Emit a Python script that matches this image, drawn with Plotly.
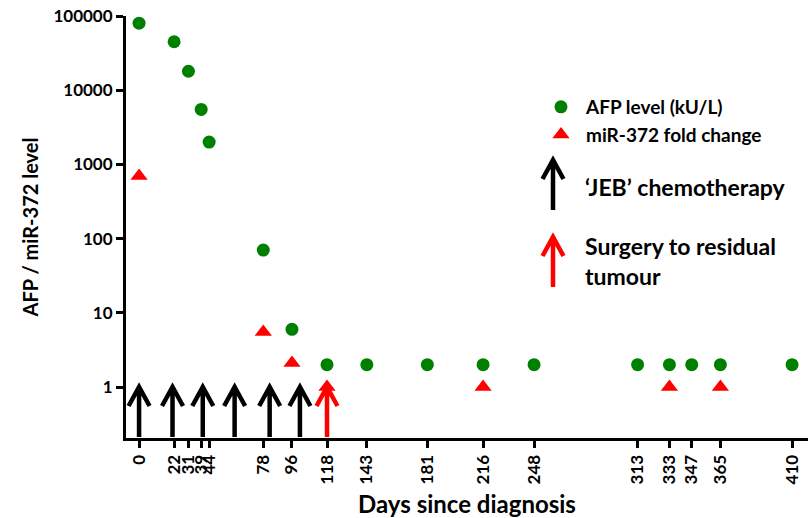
import math
import plotly.graph_objects as go

# AFP (kU/L) measurements by day since diagnosis
afp_days = [0, 22, 31, 39, 44, 78, 96, 118, 143, 181, 216, 248, 313, 333, 347, 365, 410]
afp_vals = [80000, 45000, 18000, 5500, 2000, 70, 6, 2, 2, 2, 2, 2, 2, 2, 2, 2, 2]

# miR-372 fold change
mir_days = [0, 78, 96, 118, 216, 333, 365]
mir_vals = [700, 5.5, 2.1, 1, 1, 1, 1]

# Treatment events
chemo_days = [0, 21, 40, 60, 82, 101]
surgery_days = [118]

x_ticks = [0, 22, 31, 39, 44, 78, 96, 118, 143, 181, 216, 248, 313, 333, 347, 365, 410]
y_ticks = [1, 10, 100, 1000, 10000, 100000]

GREEN = "#008000"
RED = "#ff0000"
FONT = "Lato"

fig = go.Figure()
fig.add_trace(go.Scatter(
    x=afp_days, y=afp_vals, mode="markers", name="AFP level (kU/L)",
    marker=dict(symbol="circle", size=13, color=GREEN),
))
fig.add_trace(go.Scatter(
    x=mir_days, y=mir_vals, mode="markers", name="miR-372 fold change",
    marker=dict(symbol="triangle-up", size=15, color=RED),
))

y_bottom = 10 ** -0.687
y_top_log = 5.0


def arrow_path(length, head_w, head_h):
    return (f"M0,0 L0,{-length} "
            f"M{-head_w},{-head_h} L0,0 L{head_w},{-head_h}")


shapes = []
# arrows rising from the x axis up to the 1 level
for d in chemo_days:
    shapes.append(dict(type="path", xref="x", yref="y",
                       xsizemode="pixel", ysizemode="pixel",
                       xanchor=d, yanchor=1,
                       path=arrow_path(50, 10.5, 19),
                       line=dict(color="black", width=4.5)))
for d in surgery_days:
    shapes.append(dict(type="path", xref="x", yref="y",
                       xsizemode="pixel", ysizemode="pixel",
                       xanchor=d, yanchor=1,
                       path=arrow_path(50, 10.5, 19),
                       line=dict(color=RED, width=4.5)))

# key arrows beside the legend
plot_l, plot_r, plot_t, plot_b = 126, 808, 16, 438


def px_to_paper(px, py):
    return (px - plot_l) / (plot_r - plot_l), (plot_b - py) / (plot_b - plot_t)


for (px, py), col in [((553, 160), "black"), ((553, 237), RED)]:
    xp, yp = px_to_paper(px, py)
    shapes.append(dict(type="path", xref="paper", yref="paper",
                       xsizemode="pixel", ysizemode="pixel",
                       xanchor=xp, yanchor=yp,
                       path=arrow_path(50, 10.5, 19),
                       line=dict(color=col, width=4.5)))

annotations = []
for text, (px, py) in [("‘JEB’ chemotherapy", (583, 187)),
                       ("Surgery to residual<br>tumour", (583, 261))]:
    xp, yp = px_to_paper(px, py)
    annotations.append(dict(text=text, xref="paper", yref="paper",
                            x=xp, y=yp, xanchor="left", yanchor="middle",
                            showarrow=False, align="left",
                            font=dict(family=FONT, size=23, color="black",
                                      weight="bold")))

lx, ly = px_to_paper(536, 88)

fig.update_layout(
    width=808, height=518,
    margin=dict(l=plot_l, r=0, t=plot_t, b=518 - plot_b),
    plot_bgcolor="white", paper_bgcolor="white",
    font=dict(family=FONT, color="black", weight="bold"),
    showlegend=True,
    legend=dict(x=lx, y=ly, xanchor="left", yanchor="top",
                font=dict(family=FONT, size=19, weight="bold"),
                bgcolor="rgba(0,0,0,0)", tracegroupgap=0, itemwidth=40),
    shapes=shapes,
    annotations=annotations,
)

fig.update_xaxes(
    range=[-8.2, 420], showgrid=False, zeroline=False,
    showline=True, linecolor="black", linewidth=3,
    ticks="outside", ticklen=7, tickwidth=3, tickcolor="black",
    tickmode="array", tickvals=x_ticks, ticktext=[str(t) for t in x_ticks],
    tickangle=-90, tickfont=dict(family=FONT, size=17, weight="bold"),
    title=dict(text="Days since diagnosis", standoff=17,
               font=dict(family=FONT, size=24, weight="bold")),
)
fig.update_yaxes(
    type="log", range=[math.log10(y_bottom), y_top_log],
    showgrid=False, zeroline=False,
    showline=True, linecolor="black", linewidth=3,
    ticks="outside", ticklen=7, tickwidth=3, tickcolor="black",
    tickmode="array", tickvals=y_ticks, ticktext=[str(t) for t in y_ticks],
    tickfont=dict(family=FONT, size=17, weight="bold"),
    title=dict(text="AFP / miR-372 level", standoff=10,
               font=dict(family=FONT, size=20, weight="bold")),
)

fig.write_html("out.html")
